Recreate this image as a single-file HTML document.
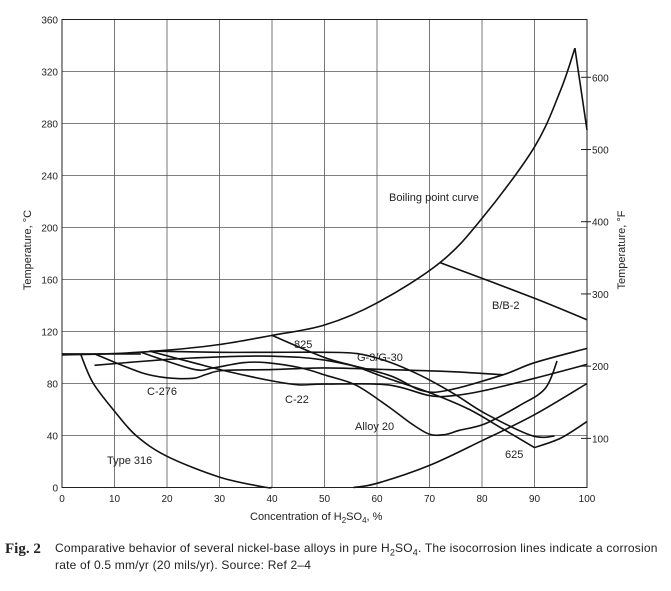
<!DOCTYPE html>
<html><head><meta charset="utf-8"><style>
body{margin:0;background:#fff;width:671px;height:586px;overflow:hidden;font-family:"Liberation Sans",sans-serif}
svg text{font-family:"Liberation Sans",sans-serif}
</style></head><body>
<svg id="c" width="671" height="586" xmlns="http://www.w3.org/2000/svg"></svg>
<script>
const xTicks=[0,10,20,30,40,50,60,70,80,90,100];
const yTicks=[0,40,80,120,160,200,240,280,320,360];
const fTicks=[100,200,300,400,500,600];
const boilX=[0,10,20,30,40,50,60,72,80,90,95,97.7];
const boilY=[102,103,105.6,110,117,125,142,173,207,262,306,338];
const boilEndX=[97.7,100];const boilEndY=[338,275];
const bbX=[72,90,100];const bbY=[173,145.6,129];
const t316aX=[3.5,5.9,10,14.1,20,30,38.3,40];const t316aY=[103,80.5,58.7,40,24,8,0.5,0];
const t316bX=[55.5,60,70,80,90,100];const t316bY=[0,3.2,17,36,56,80];
const c276X=[6.2,10,15.4,20,25,27.5,30.7,40,50,62,74.7,84];const c276Y=[102.8,96.4,88,84.4,84,87,90,90.7,92,90.7,89,86.7];
const c22X=[16.7,25,31.3,40,45,50,62,70,74.7,80.6,90,100];const c22Y=[104.9,96,89.5,82,79,79.5,79,70.7,70.7,74.7,84,94.7];
const a20X=[15,25,28.8,34.5,39,45.5,50.5,56,62,66.6,70,73,75.7,80.6,87,92,94.3];const a20Y=[104,91,92,96,96,92,86,78.7,62.7,49,41,40.8,44,49,62.7,76,97.3];
const g3X=[16.7,30,40,50,56.2,62,68.4,74.7,80.6,89.4,93.8];const g3Y=[104.9,104,104,104,103,97,86,72,57,40,39.5];
const l825X=[40,50,56,62,70,77.6,84,90];const l825Y=[117,100,93,84,73,60,45,30.7];
const l625X=[90,95,100];const l625Y=[30.7,38,50.7];
const l6X=[6.2,20,30,40,50,62,68.4,73.4,84,90,100];const l6Y=[94,98.5,100.5,101,98,86.7,74.7,74.7,86.7,96,107];
const flatX=[0,15];const flatY=[102.8,102.8];
const L=62,R=587,T=19.5,B=487.5;
const sx=c=>L+(R-L)*c/100, sy=v=>B-(B-T)*v/360;
const fy=f=>sy((f-32)*5/9);
const svg=document.getElementById('c');const NS='http://www.w3.org/2000/svg';
function mk(t,a){const e=document.createElementNS(NS,t);for(const k in a)e.setAttribute(k,a[k]);svg.appendChild(e);return e;}
for(const c of xTicks){const e=mk('line',{x1:sx(c),x2:sx(c),y1:T,y2:B,stroke:'#555','stroke-width':0.8});


const t=mk('text',{x:sx(c),y:502,'font-size':10,'text-anchor':'middle',fill:'#222'});t.textContent=c;

}
for(const v of yTicks){const e=mk('line',{x1:L,x2:R,y1:sy(v),y2:sy(v),stroke:'#555','stroke-width':0.8});


const t=mk('text',{x:58,y:sy(v)+4,'font-size':10,'text-anchor':'end',fill:'#222'});t.textContent=v;

}
for(const f of fTicks){const e=mk('line',{x1:R-6,x2:R+4,y1:fy(f),y2:fy(f),stroke:'#222','stroke-width':1});


const t=mk('text',{x:592,y:fy(f)+4,'font-size':10,fill:'#222'});t.textContent=f;

}
const fr=mk('rect',{x:L,y:T,width:R-L,height:B-T,fill:'none',stroke:'#222','stroke-width':1});


function line(xs,ys,name){
const P=xs.map((x,i)=>[sx(x),sy(ys[i])]);
let d='M'+P[0][0].toFixed(1)+' '+P[0][1].toFixed(1);
for(let i=0;i<P.length-1;i++){const p0=P[i-1]||P[i],p1=P[i],p2=P[i+1],p3=P[i+2]||p2;
const c1=[p1[0]+(p2[0]-p0[0])/6,p1[1]+(p2[1]-p0[1])/6],c2=[p2[0]-(p3[0]-p1[0])/6,p2[1]-(p3[1]-p1[1])/6];
d+=' C'+c1[0].toFixed(1)+' '+c1[1].toFixed(1)+' '+c2[0].toFixed(1)+' '+c2[1].toFixed(1)+' '+p2[0].toFixed(1)+' '+p2[1].toFixed(1);}
const p=mk('path',{d:d,fill:'none',stroke:'#111','stroke-width':1.6,'stroke-linejoin':'round'});

}
line(boilX,boilY,'boiling-point-curve');line(boilEndX,boilEndY,'boiling-point-end');line(bbX,bbY,'b-b2-line');line(t316aX,t316aY,'type-316-line');line(t316bX,t316bY,'type-316-right-line');
line(c276X,c276Y,'c276-line');line(c22X,c22Y,'c22-line');line(a20X,a20Y,'alloy20-line');line(g3X,g3Y,'g3-g30-line');
line(l825X,l825Y,'825-line');line(l625X,l625Y,'625-line');line(l6X,l6Y,'alloy-line-6');line(flatX,flatY,'start-line');
const labels=[['Boiling point curve',389,201],['B/B-2',492,309],['825',294,348],['G-3/G-30',357,361],['C-276',147,395],['C-22',285,403],['Alloy 20',355,430],['625',505,458],['Type 316',107,464]];
for(const [s,x,y] of labels){const t=mk('text',{x:x,y:y,'font-size':11,fill:'#222'});t.textContent=s;

}
</script>
<div style="position:absolute;left:28px;top:250px;transform:translate(-50%,-50%) rotate(-90deg);font-size:11px;color:#222;white-space:nowrap">Temperature, °C</div>
<div style="position:absolute;left:622px;top:250px;transform:translate(-50%,-50%) rotate(-90deg);font-size:11px;color:#222;white-space:nowrap">Temperature, °F</div>
<div style="position:absolute;left:250px;top:511px;font-size:11px;color:#222;white-space:nowrap">Concentration of H<sub style="font-size:8px">2</sub>SO<sub style="font-size:8px">4</sub>, %</div>
<div style="position:absolute;left:5px;top:541px;font-family:'Liberation Serif',serif;font-weight:bold;font-size:15px;color:#222">Fig. 2</div>
<div style="position:absolute;left:55px;top:542px;width:616px;font-size:12px;line-height:13px;color:#222;white-space:nowrap;letter-spacing:0.2px">Comparative behavior of several nickel-base alloys in pure H<sub style="font-size:9px">2</sub>SO<sub style="font-size:9px">4</sub>. The isocorrosion lines indicate a corrosion<br>rate of 0.5 mm/yr (20 mils/yr). Source: Ref 2–4</div>
</body></html>
